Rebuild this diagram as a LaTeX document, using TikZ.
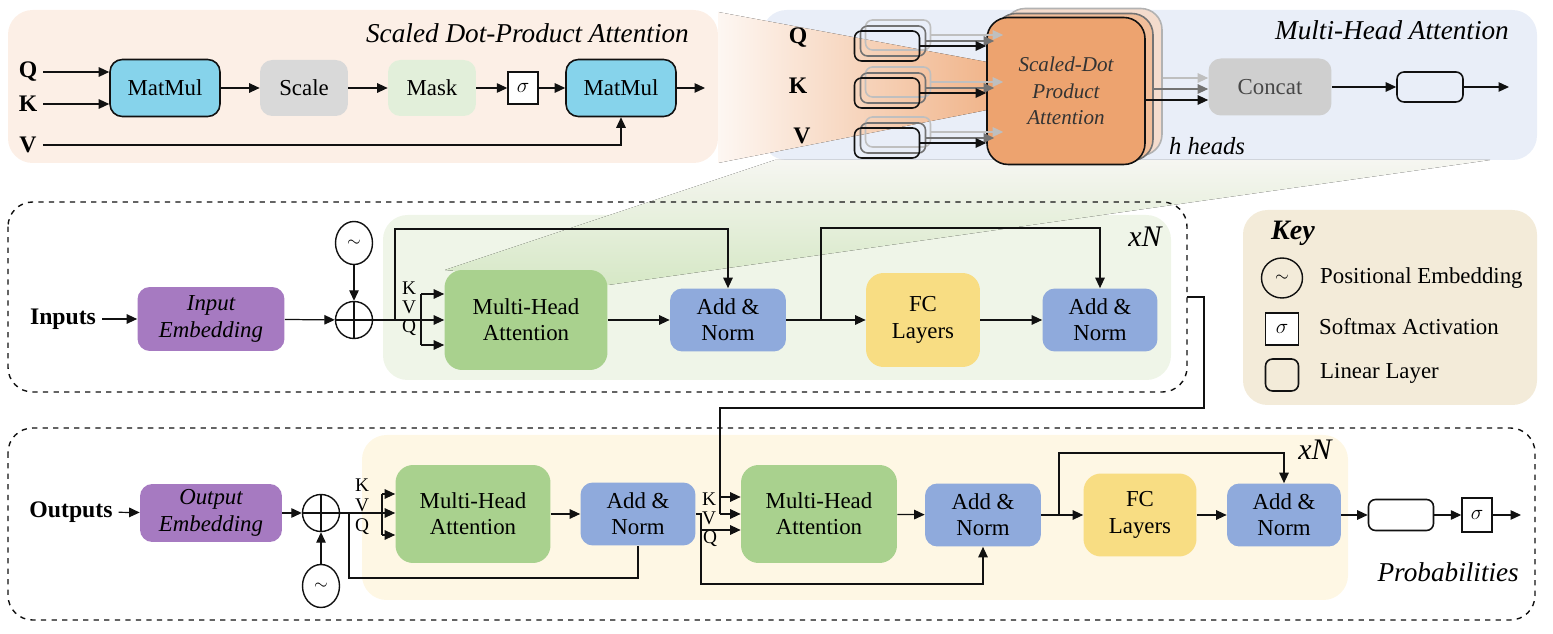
\documentclass[tikz,border=0pt]{standalone}
\usepackage{fontspec}
\setmainfont{Liberation Serif}
\usepackage{tikz}
\usetikzlibrary{arrows.meta,positioning,shapes.geometric,calc}
\definecolor{ink}{HTML}{111111}
\definecolor{peachbg}{HTML}{FCEFE6}
\definecolor{bluebg}{HTML}{E9EEF8}
\definecolor{encbg}{HTML}{EFF5E8}
\definecolor{decbg}{HTML}{FEF7E4}
\definecolor{keybg}{HTML}{F3EBD9}
\definecolor{matblue}{HTML}{86D3EB}
\definecolor{scalegray}{HTML}{D9D9D9}
\definecolor{maskgreen}{HTML}{E2EFDA}
\definecolor{headorange}{HTML}{EDA36F}
\definecolor{headmid}{HTML}{F1BE9A}
\definecolor{headback}{HTML}{F4DCCD}
\definecolor{concatgray}{HTML}{CFCFCF}
\definecolor{mhagreen}{HTML}{A9D18E}
\definecolor{normblue}{HTML}{8FAADC}
\definecolor{fcyellow}{HTML}{F8DD83}
\definecolor{embpurple}{HTML}{A67AC1}
\definecolor{wedgetop}{HTML}{F6F6F1}
\definecolor{wedgebot}{HTML}{D6E8C6}
\tikzset{
  blk/.style={rectangle, rounded corners=7pt, align=center, inner sep=2pt, font=\fontsize{13}{15}\selectfont},
  matmul/.style={blk, draw=ink, line width=0.9pt, fill=matblue, minimum width=2.2cm, minimum height=1.14cm},
  softbox/.style={blk, minimum width=1.76cm, minimum height=1.12cm},
  sigbox/.style={rectangle, draw=ink, line width=0.8pt, fill=white, minimum width=0.6cm, minimum height=0.64cm, inner sep=0pt, font=\fontsize{13}{15}\selectfont},
  linbox/.style={rectangle, rounded corners=4pt, draw=ink, line width=0.9pt, minimum width=1.3cm, minimum height=0.6cm, inner sep=0pt},
  headbox/.style={rectangle, rounded corners=12pt, line width=0.9pt, minimum width=3.16cm, minimum height=2.94cm, align=center, font=\fontsize{12}{15}\selectfont\itshape},
  embbox/.style={blk, fill=embpurple, font=\fontsize{13}{15}\selectfont\itshape},
  mha/.style={blk, fill=mhagreen, rounded corners=10pt},
  addnorm/.style={blk, fill=normblue},
  fclayer/.style={blk, fill=fcyellow, rounded corners=10pt},
  posenc/.style={ellipse, draw=ink, line width=0.8pt, minimum width=0.74cm, minimum height=0.86cm, inner sep=0pt},
  plus/.style={circle, draw=ink, line width=0.8pt, fill=white, minimum size=0.74cm, inner sep=0pt,
    path picture={\draw[ink, line width=0.8pt] (path picture bounding box.north) -- (path picture bounding box.south)
      (path picture bounding box.west) -- (path picture bounding box.east);}},
  arr/.style={-{Triangle[length=2.1mm,width=1.9mm]}, line width=0.7pt, draw=ink},
  wire/.style={line width=0.7pt, draw=ink},
  dashbox/.style={draw=ink, dashed, line width=0.8pt, rounded corners=14pt},
  io/.style={font=\fontsize{13.5}{15}\selectfont\bfseries},
  kvq/.style={font=\fontsize{11}{12}\selectfont, inner sep=0pt},
  ttl/.style={font=\fontsize{15.5}{17}\selectfont\itshape},
  keytxt/.style={font=\fontsize{13}{15}\selectfont, anchor=west}
}

\begin{document}
\begin{tikzpicture}[x=0.02cm, y=-0.02cm]
  \useasboundingbox (0,0) rectangle (1553,634);

  % background panels
  \fill[peachbg, rounded corners=14pt] (8,10) rectangle (718,163);
  \fill[bluebg, rounded corners=14pt] (762,10) rectangle (1537,160);
  \fill[encbg, rounded corners=14pt] (383,215) rectangle (1171,380);
  \fill[decbg, rounded corners=14pt] (362,435) rectangle (1348,600);
  \fill[keybg, rounded corners=14pt] (1243,210) rectangle (1537,405);

  % zoom wedges
  \fill[left color=peachbg!50, right color=headorange!80] (718,12) -- (987,62) -- (987,110) -- (718,163) -- cycle;
  \fill[top color=wedgetop, bottom color=wedgebot] (775,160) -- (1490,160) -- (608,285) -- (445,270) -- cycle;

  % encoder and decoder frames
  \draw[dashbox] (8,202) rectangle (1187,392);
  \draw[dashbox] (8,428) rectangle (1535,620);

  % scaled dot-product attention
  \node[ttl, anchor=east] (sdtitle) at (695,33) {Scaled Dot-Product Attention};
  \node[io] (sq) at (28,72) {Q};
  \node[io] (sk) at (28,104) {K};
  \node[io] (sv) at (28,145) {V};
  \node[matmul] (mm1) at (165,88) {MatMul};
  \node[softbox, fill=scalegray] (scale) at (304,88) {Scale};
  \node[softbox, fill=maskgreen] (mask) at (432,88) {Mask};
  \node[sigbox] (sig1) at (523,88) {$\sigma$};
  \node[matmul] (mm2) at (621,88) {MatMul};
  \coordinate (send) at (705,88);

  \draw[arr] (sq.east) -- (sq -| mm1.west);
  \draw[arr] (sk.east) -- (sk -| mm1.west);
  \draw[arr] (mm1) -- (scale);
  \draw[arr] (scale) -- (mask);
  \draw[arr] (mask) -- (sig1);
  \draw[arr] (sig1) -- (mm2);
  \draw[arr] (mm2) -- (send);
  \draw[arr] (sv.east) -| (mm2.south);

  % multi-head attention
  \node[ttl, anchor=east] (mhtitle) at (1515,30) {Multi-Head Attention};
  \node[io] (mq) at (798,38) {Q};
  \node[io] (mk) at (798,86) {K};
  \node[io] (mv) at (802,136) {V};

  \node[headbox, fill=headback, draw=black!30] (head3) at (1083,82) {};
  \node[headbox, fill=headmid, draw=black!55] (head2) at (1074,87) {};
  \node[headbox, fill=headorange, draw=ink, text=black!80] (head1) at (1066,91) {Scaled-Dot\\Product\\Attention};
  \node[ttl, font=\fontsize{14}{16}\selectfont\itshape] (hheads) at (1207,146) {h heads};

  \foreach \n/\yy in {q/46,k/93,v/143}{
    \node[linbox, draw=black!25] (back\n) at (898,\yy-11) {};
    \node[linbox, draw=black!55] (mid\n) at (893,\yy-5) {};
    \node[linbox] (lin\n) at (887,\yy) {};
    \draw[arr, draw=black!25] (back\n.east) -- (back\n -| head3.west);
    \draw[arr, draw=black!55] (mid\n.east) -- (mid\n -| head2.west);
    \draw[arr] (lin\n.east) -- (lin\n -| head1.west);
  }

  \node[blk, fill=concatgray, text=black!72, minimum width=2.46cm, minimum height=1.14cm] (concat) at (1270,87) {Concat};
  \node[linbox, minimum width=1.32cm] (mlin) at (1430,87) {};
  \coordinate (mend) at (1509,87);
  \draw[arr, draw=black!25] ($(head3.east)+(0,-4)$) coordinate (ho3) -- (ho3 -| concat.west);
  \draw[arr, draw=black!55] ($(head2.east)+(0,2)$) coordinate (ho2) -- (ho2 -| concat.west);
  \draw[arr] ($(head1.east)+(0,9)$) coordinate (ho1) -- (ho1 -| concat.west);
  \draw[arr] (concat) -- (mlin);
  \draw[arr] (mlin) -- (mend);

  % encoder
  \node[io] (inputs) at (63,319) {Inputs};
  \node[embbox, minimum width=2.94cm, minimum height=1.28cm] (iemb) at (211,319) {Input\\Embedding};
  \node[plus] (eplus) at (354,320) {};
  \node[posenc] (epos) at (354,243) {$\sim$};
  \node[mha, minimum width=3.26cm, minimum height=2.0cm] (emha) at (526,320) {Multi-Head\\Attention};
  \node[addnorm, minimum width=2.32cm, minimum height=1.26cm] (ean1) at (728,320) {Add \&\\Norm};
  \node[fclayer, minimum width=2.28cm, minimum height=1.88cm] (efc) at (923,320) {FC\\Layers};
  \node[addnorm, minimum width=2.3cm, minimum height=1.26cm] (ean2) at (1100,320) {Add \&\\Norm};
  \node[kvq] (ekl) at (409,288) {K};
  \node[kvq] (evl) at (409,307) {V};
  \node[kvq] (eql) at (409,328) {Q};
  \node[ttl, font=\fontsize{17}{19}\selectfont\itshape] (exn) at (1145,237) {xN};

  \coordinate (ek) at (421,294);
  \coordinate (eq) at (421,345);
  \coordinate (eres1) at (395,320);
  \coordinate (eres2) at (821,320);
  \coordinate (eout) at (1187,297);

  \draw[arr] (inputs) -- (iemb);
  \draw[arr] (iemb) -- (eplus);
  \draw[arr] (epos) -- (eplus);
  \draw[arr] (eplus) -- (eplus -| emha.west);
  \draw[wire] (ek) -- (eq);
  \draw[arr] (ek) -- (ek -| emha.west);
  \draw[arr] (eq) -- (eq -| emha.west);
  \draw[arr] (eres1) -- ++(0,-91) -| (ean1.north);
  \draw[arr] (emha) -- (ean1);
  \draw[arr] (ean1) -- (efc);
  \draw[arr] (eres2) -- ++(0,-92) -| (ean2.north);
  \draw[arr] (efc) -- (ean2);

  % key
  \node[font=\fontsize{16}{18}\selectfont\bfseries\itshape] (keyt) at (1293,233) {Key};
  \node[posenc, minimum width=0.82cm, minimum height=0.8cm] (kpos) at (1282,278) {$\sim$};
  \node[sigbox, minimum width=0.66cm, minimum height=0.64cm] (ksig) at (1282,329) {$\sigma$};
  \node[linbox, minimum width=0.66cm, minimum height=0.64cm] (klin) at (1282,375) {};
  \node[keytxt] (kposl) at (1314,278) {Positional Embedding};
  \node[keytxt] (ksigl) at (1313,327) {Softmax Activation};
  \node[keytxt] (klinl) at (1314,373) {Linear Layer};

  % decoder
  \node[io] (outputs) at (71,512) {Outputs};
  \node[embbox, minimum width=2.84cm, minimum height=1.16cm] (oemb) at (211,513) {Output\\Embedding};
  \node[plus] (dplus) at (321,513) {};
  \node[posenc] (dpos) at (321,586) {$\sim$};
  \node[mha, minimum width=3.1cm, minimum height=1.96cm] (dmha1) at (473,514) {Multi-Head\\Attention};
  \node[addnorm, minimum width=2.3cm, minimum height=1.26cm] (dan1) at (638,514) {Add \&\\Norm};
  \node[mha, minimum width=3.12cm, minimum height=1.96cm] (dmha2) at (819,514) {Multi-Head\\Attention};
  \node[addnorm, minimum width=2.32cm, minimum height=1.26cm] (dan2) at (983,515) {Add \&\\Norm};
  \node[fclayer, minimum width=2.26cm, minimum height=1.66cm] (dfc) at (1140,515) {FC\\Layers};
  \node[addnorm, minimum width=2.28cm, minimum height=1.26cm] (dan3) at (1284,515) {Add \&\\Norm};
  \node[linbox, minimum height=0.62cm] (dlin) at (1401,515) {};
  \node[sigbox, minimum height=0.68cm] (dsig) at (1477,515) {$\sigma$};
  \node[ttl, anchor=east] (prob) at (1525,572) {Probabilities};
  \node[ttl, font=\fontsize{17}{19}\selectfont\itshape] (dxn) at (1315,450) {xN};
  \node[kvq] (dkl1) at (362,485) {K};
  \node[kvq] (dvl1) at (362,505) {V};
  \node[kvq] (dql1) at (362,527) {Q};
  \node[kvq] (dkl2) at (709,499) {K};
  \node[kvq] (dvl2) at (709,518) {V};
  \node[kvq] (dql2) at (710,539) {Q};

  \coordinate (dk1) at (382,494);
  \coordinate (dq1) at (382,535);
  \coordinate (dres1) at (349,513);
  \coordinate (dres1b) at (349,578);
  \coordinate (dmem) at (720,408);
  \coordinate (dk2) at (720,497);
  \coordinate (dv2) at (720,514);
  \coordinate (dq2) at (701,530);
  \coordinate (dres2) at (701,584);
  \coordinate (dres3) at (1059,515);
  \coordinate (dend) at (1521,515);

  \draw[arr] (outputs) -- (oemb);
  \draw[arr] (oemb) -- (dplus);
  \draw[arr] (dpos) -- (dplus);
  \draw[arr] (dplus) -- (dplus -| dmha1.west);
  \draw[wire] (dk1) -- (dq1);
  \draw[arr] (dk1) -- (dk1 -| dmha1.west);
  \draw[arr] (dq1) -- (dq1 -| dmha1.west);
  \draw[wire] (dres1) -- (dres1b) -| (dan1.south);
  \draw[arr] (dmha1) -- (dan1);
  \draw[wire] (eout) -- ++(17,0) |- (dmem) -- (dv2);
  \draw[arr] (dk2) -- (dk2 -| dmha2.west);
  \draw[arr] (dv2) -- (dv2 -| dmha2.west);
  \draw[arr] (dan1.east) -| (dres2) -| (dan2.south);
  \draw[arr] (dq2) -- (dq2 -| dmha2.west);
  \draw[arr] (dmha2) -- (dan2);
  \draw[arr] (dan2) -- (dfc);
  \draw[arr] (dres3) -- ++(0,-62) -| (dan3.north);
  \draw[arr] (dfc) -- (dan3);
  \draw[arr] (dan3) -- (dlin);
  \draw[arr] (dlin) -- (dsig);
  \draw[arr] (dsig) -- (dend);
\end{tikzpicture}
\end{document}
